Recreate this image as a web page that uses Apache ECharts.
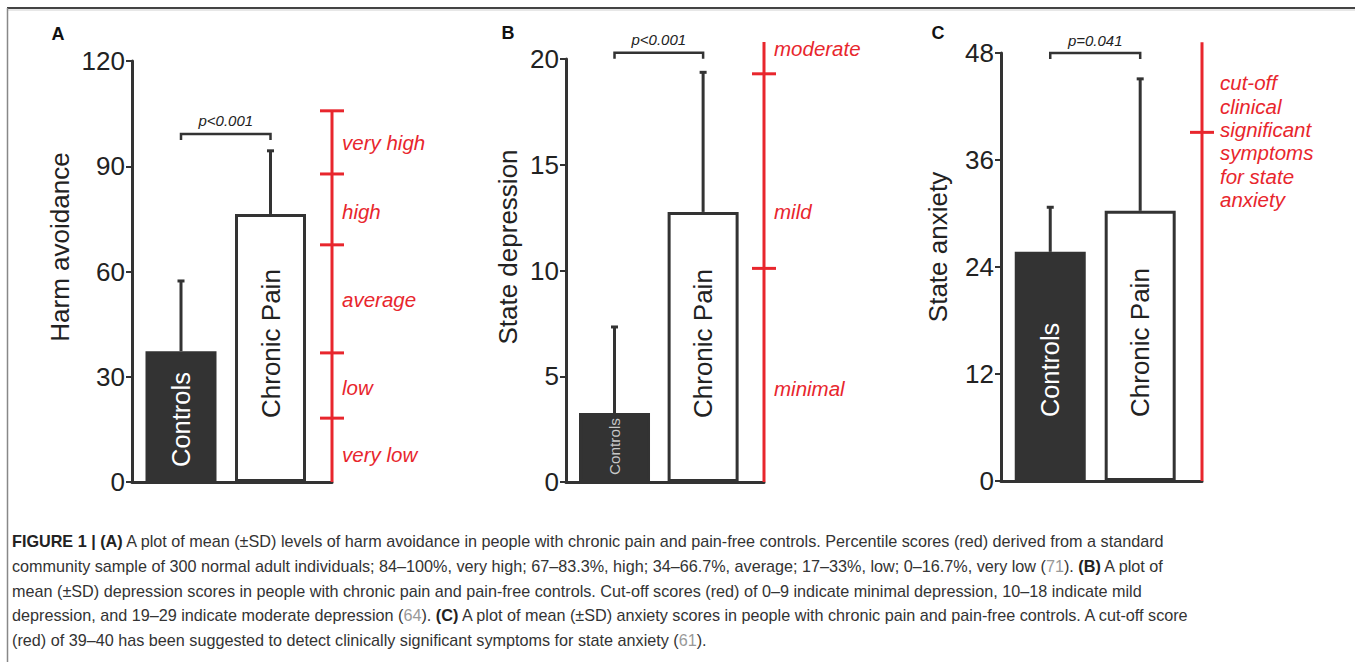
<!DOCTYPE html>
<html>
<head>
<meta charset="utf-8">
<script src="https://cdn.jsdelivr.net/npm/echarts@6/dist/echarts.min.js"></script>
<style>
html,body{margin:0;padding:0;background:#fff;}
#chart{width:1355px;height:662px;}
</style>
</head>
<body>
<div id="chart"></div>
<script>
// ---------------- data ----------------
const categories = ['Controls', 'Chronic Pain'];

const harmMean = [37.3, 76.4];
const harmSD = [20.0, 18.0];
const depMean = [3.26, 12.77];
const depSD = [4.07, 6.6];
const anxMean = [25.7, 30.3];
const anxSD = [5.0, 14.8];

const yTicksHarm = [0, 30, 60, 90, 120];
const yTicksDep = [0, 5, 10, 15, 20];
const yTicksAnx = [0, 12, 24, 36, 48];

const pValues = ['p<0.001', 'p<0.001', 'p=0.041'];
const bracketLevels = [99.2, 20.3, 48.0];

const harmCutoffs = [105.8, 87.8, 67.6, 36.8, 18.2];
const harmBandLabels = ['very high', 'high', 'average', 'low', 'very low'];
const harmBandValues = [96.9, 77.0, 51.9, 27.0, 7.7];

const depCutoffs = [19.3, 10.1];
const depScaleTop = 20.8;
const depBandLabels = ['moderate', 'mild', 'minimal'];
const depBandValues = [20.5, 12.8, 4.4];

const anxCutoffs = [39.1];
const anxScaleTop = 49.2;
const anxBandLabels = ['cut-off\nclinical\nsignificant\nsymptoms\nfor state\nanxiety'];
const anxBandValues = [38.1];

const captionLines = [
  '{b|FIGURE 1 | (A)} A plot of mean (±SD) levels of harm avoidance in people with chronic pain and pain-free controls. Percentile scores (red) derived from a standard',
  'community sample of 300 normal adult individuals; 84–100%, very high; 67–83.3%, high; 34–66.7%, average; 17–33%, low; 0–16.7%, very low ({g|71}). {b|(B)} A plot of',
  'mean (±SD) depression scores in people with chronic pain and pain-free controls. Cut-off scores (red) of 0–9 indicate minimal depression, 10–18 indicate mild',
  'depression, and 19–29 indicate moderate depression ({g|64}). {b|(C)} A plot of mean (±SD) anxiety scores in people with chronic pain and pain-free controls. A cut-off score',
  '(red) of 39–40 has been suggested to detect clinically significant symptoms for state anxiety ({g|61}).'
];

// ---------------- style / layout ----------------
const RED = '#e8262d';
const DARK = '#333333';
const FONT = '"Liberation Sans", Arial, Helvetica, sans-serif';
const CAP_SIZE = 16.2;
const X_MAX = 4;
const SLOTS = [0.98, 2.77];

const panels = [
  { letter: 'A', yName: 'Harm avoidance', ticks: yTicksHarm, mean: harmMean, sd: harmSD,
    p: pValues[0], bracket: bracketLevels[0],
    scaleTop: harmCutoffs[0], cutoffs: harmCutoffs, labels: harmBandLabels, labelValues: harmBandValues, labelDx: 10,
    grid: { left: 132, top: 61, width: 200, height: 421 }, nameGap: 59, nameShift: 49, letterPos: [58, 34],
    ctrl: { fontSize: 25.5, color: '#ffffff', distance: 15 } },
  { letter: 'B', yName: 'State depression', ticks: yTicksDep, mean: depMean, sd: depSD,
    p: pValues[1], bracket: bracketLevels[1],
    scaleTop: depScaleTop, cutoffs: depCutoffs, labels: depBandLabels, labelValues: depBandValues, labelDx: 10,
    grid: { left: 566, top: 59, width: 198, height: 423 }, nameGap: 45, nameShift: 47, letterPos: [508, 33],
    ctrl: { fontSize: 15.3, color: '#c8c8c8', distance: 7 } },
  { letter: 'C', yName: 'State anxiety', ticks: yTicksAnx, mean: anxMean, sd: anxSD,
    p: pValues[2], bracket: bracketLevels[2],
    scaleTop: anxScaleTop, cutoffs: anxCutoffs, labels: anxBandLabels, labelValues: anxBandValues, labelDx: 18,
    grid: { left: 1001, top: 53, width: 201, height: 428 }, nameGap: 50, nameShift: 40, letterPos: [938, 33],
    ctrl: { fontSize: 25.3, color: '#ffffff', distance: 64 } }
];

const grids = [], xAxes = [], yAxes = [], series = [];

panels.forEach((pn, k) => {
  grids.push(Object.assign({ containLabel: false, outerBoundsMode: 'none' }, pn.grid));
  xAxes.push({
    type: 'value', gridIndex: k, min: 0, max: X_MAX,
    axisLine: { show: true, lineStyle: { color: DARK, width: 3 } },
    axisTick: { show: false }, axisLabel: { show: false }, splitLine: { show: false }
  });
  const t = pn.ticks;
  yAxes.push({
    type: 'value', gridIndex: k, min: t[0], max: t[t.length - 1], interval: t[1] - t[0],
    name: pn.yName, nameLocation: 'middle', nameRotate: 90, nameGap: pn.nameGap, nameMoveOverlap: false,
    nameTextStyle: { fontFamily: FONT, fontSize: 26, color: '#222', padding: [0, 0, 0, pn.nameShift] },
    axisLine: { show: true, onZero: false, lineStyle: { color: DARK, width: 3 } },
    axisTick: { show: true, length: 6, lineStyle: { color: DARK, width: 2 } },
    axisLabel: { fontFamily: FONT, fontSize: 26, color: '#222', margin: 7 },
    splitLine: { show: false }
  });

  // bars
  series.push({
    type: 'bar', xAxisIndex: k, yAxisIndex: k, barWidth: 71, z: 2,
    data: categories.map((c, i) => ({
      value: [SLOTS[i], pn.mean[i]],
      itemStyle: { color: i === 0 ? DARK : '#ffffff', borderColor: DARK, borderWidth: 3 },
      label: {
        show: true, formatter: c, position: 'insideBottom', rotate: 90,
        align: 'left', verticalAlign: 'middle',
        distance: i === 0 ? pn.ctrl.distance : 64,
        fontFamily: FONT, fontSize: i === 0 ? pn.ctrl.fontSize : 26,
        color: i === 0 ? pn.ctrl.color : '#222'
      }
    }))
  });

  // error bars (+SD)
  series.push({
    type: 'custom', xAxisIndex: k, yAxisIndex: k, z: 3, clip: false,
    data: categories.map((c, i) => [SLOTS[i], pn.mean[i], pn.sd[i]]),
    renderItem: (params, api) => {
      const b = api.coord([api.value(0), api.value(1)]);
      const tp = api.coord([api.value(0), api.value(1) + api.value(2)]);
      return { type: 'group', children: [
        { type: 'line', shape: { x1: b[0], y1: b[1], x2: tp[0], y2: tp[1] }, style: { stroke: DARK, lineWidth: 3 } },
        { type: 'line', shape: { x1: tp[0] - 3.5, y1: tp[1], x2: tp[0] + 3.5, y2: tp[1] }, style: { stroke: DARK, lineWidth: 3 } }
      ] };
    }
  });

  // significance bracket
  series.push({
    type: 'custom', xAxisIndex: k, yAxisIndex: k, z: 3, clip: false,
    data: [[SLOTS[0], pn.bracket, SLOTS[1]]],
    renderItem: (params, api) => {
      const a = api.coord([api.value(0), api.value(1)]);
      const b = api.coord([api.value(2), api.value(1)]);
      return { type: 'group', children: [
        { type: 'polyline', shape: { points: [[a[0], a[1] + 6], [a[0], a[1]], [b[0], b[1]], [b[0], b[1] + 6]] },
          style: { stroke: DARK, lineWidth: 2.5, fill: null } },
        { type: 'text', x: (a[0] + b[0]) / 2, y: a[1] - 13,
          style: { text: pn.p, fill: '#222', font: 'italic 15px ' + FONT, align: 'center', verticalAlign: 'middle' } }
      ] };
    }
  });

  // red reference scale
  series.push({
    type: 'custom', xAxisIndex: k, yAxisIndex: k, z: 4, clip: false,
    data: [[X_MAX, pn.scaleTop]],
    renderItem: (params, api) => {
      const top = api.coord([api.value(0), api.value(1)]);
      const bot = api.coord([api.value(0), 0]);
      const ch = [{ type: 'line', shape: { x1: top[0], y1: top[1], x2: bot[0], y2: bot[1] }, style: { stroke: RED, lineWidth: 3 } }];
      pn.cutoffs.forEach(v => {
        const c = api.coord([api.value(0), v]);
        ch.push({ type: 'line', shape: { x1: c[0] - 12, y1: c[1], x2: c[0] + 12, y2: c[1] }, style: { stroke: RED, lineWidth: 3 } });
      });
      pn.labels.forEach((txt, i) => {
        const c = api.coord([api.value(0), pn.labelValues[i]]);
        ch.push({ type: 'text', x: c[0] + pn.labelDx, y: c[1],
          style: { text: txt, fill: RED, font: 'italic 20.5px ' + FONT, lineHeight: 23.4, align: 'left', verticalAlign: 'middle' } });
      });
      return { type: 'group', children: ch };
    }
  });
});

// frame, panel letters, caption
const graphics = [
  { type: 'line', shape: { x1: 7, y1: 8, x2: 1355, y2: 8 }, style: { stroke: '#444', lineWidth: 2 } },
  { type: 'line', shape: { x1: 7, y1: 10, x2: 1355, y2: 10 }, style: { stroke: '#d0d0d0', lineWidth: 1 } },
  { type: 'line', shape: { x1: 7.5, y1: 8, x2: 7.5, y2: 662 }, style: { stroke: '#888', lineWidth: 1.5 } }
];
panels.forEach(pn => {
  graphics.push({ type: 'text', x: pn.letterPos[0], y: pn.letterPos[1],
    style: { text: pn.letter, fill: '#111', font: 'bold 18px ' + FONT, align: 'center', verticalAlign: 'middle' } });
});
const capY = [541, 566, 591, 615, 640];
const capRich = {
  b: { fontFamily: FONT, fontSize: CAP_SIZE, fontWeight: 'bold', fill: '#222' },
  g: { fontFamily: FONT, fontSize: CAP_SIZE, fill: '#999' }
};
captionLines.forEach((line, i) => {
  graphics.push({ type: 'text', x: 12, y: capY[i],
    style: { text: line, fontFamily: FONT, fontSize: CAP_SIZE, fill: '#333', align: 'left', verticalAlign: 'middle', rich: capRich } });
});

const chart = echarts.init(document.getElementById('chart'), null, { renderer: 'svg' });
chart.setOption({
  animation: false,
  backgroundColor: '#ffffff',
  grid: grids,
  xAxis: xAxes,
  yAxis: yAxes,
  series: series,
  graphic: { elements: graphics }
});
</script>
</body>
</html>
